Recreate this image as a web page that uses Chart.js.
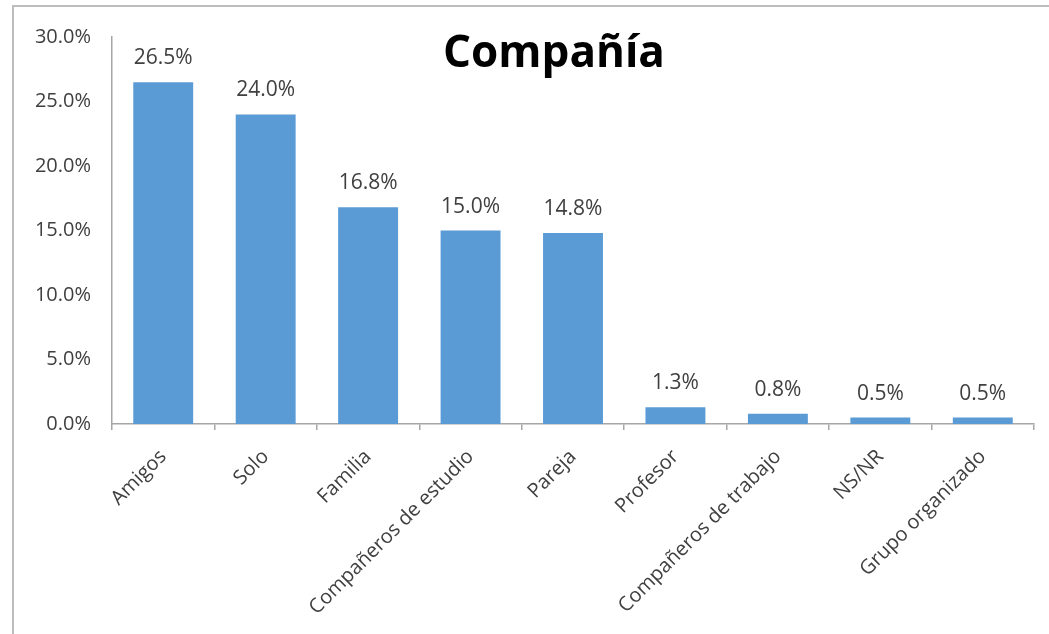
<!DOCTYPE html>
<html>
<head>
<meta charset="utf-8">
<script src="https://cdn.jsdelivr.net/npm/chart.js@4"></script>
<style>
html,body{margin:0;padding:0;background:#fff;}
#wrap{position:relative;width:1049px;height:634px;}
</style>
</head>
<body>
<div id="wrap"><canvas id="c"></canvas></div>
<script>
const categories = ["Amigos","Solo","Familia","Compañeros de estudio","Pareja","Profesor","Compañeros de trabajo","NS/NR","Grupo organizado"];
const values = [26.5, 24.0, 16.8, 15.0, 14.8, 1.3, 0.8, 0.5, 0.5];
const titleText = "Compañía";
const yMin = 0, yMax = 30, yStep = 5;

const FONT = "'Open Sans', 'DejaVu Sans', sans-serif";

const decor = {
  id: 'decor',
  beforeDraw(chart) {
    const ctx = chart.ctx;
    ctx.save();
    ctx.strokeStyle = '#bdbdbd';
    ctx.lineWidth = 2;
    ctx.beginPath();
    ctx.moveTo(13, chart.height);
    ctx.lineTo(13, 6);
    ctx.lineTo(chart.width, 6);
    ctx.stroke();
    ctx.restore();
  },
  afterDatasetsDraw(chart) {
    const ctx = chart.ctx;
    const meta = chart.getDatasetMeta(0);
    ctx.save();
    ctx.font = "21px " + FONT;
    ctx.fillStyle = '#404040';
    ctx.textAlign = 'center';
    ctx.textBaseline = 'alphabetic';
    meta.data.forEach((bar, i) => {
      ctx.fillText(values[i].toFixed(1) + '%', bar.x, bar.y - 18);
    });
    // title
    ctx.font = "bold 44px " + FONT;
    ctx.fillStyle = '#000000';
    ctx.fillText(titleText, 554, 67);
    ctx.restore();
  }
};

new Chart(document.getElementById('c'), {
  type: 'bar',
  data: {
    labels: categories,
    datasets: [{
      data: values,
      backgroundColor: '#5B9BD5',
      borderWidth: 0,
      barPercentage: 0.585,
      categoryPercentage: 1.0
    }]
  },
  options: {
    responsive: true,
    maintainAspectRatio: false,
    animation: false,
    devicePixelRatio: 1,
    layout: { padding: { top: 37, right: 15, left: 0, bottom: 0 } },
    plugins: { legend: { display: false }, tooltip: { enabled: false }, title: { display: false } },
    scales: {
      x: {
        grid: { display: true, drawOnChartArea: false, drawTicks: true, tickLength: 6, offset: true, color: '#a6a6a6', lineWidth: 1.5 },
        border: { display: true, color: '#a6a6a6', width: 1.5 },
        ticks: { autoSkip: false, minRotation: 45, maxRotation: 45, padding: 15, color: '#404040', font: { family: FONT, size: 20 } },
        afterFit(scale) { scale.height = 210; }
      },
      y: {
        min: yMin, max: yMax,
        grid: { display: false, drawTicks: false },
        border: { display: true, color: '#a6a6a6', width: 1.5 },
        ticks: { stepSize: yStep, padding: 21, color: '#404040', font: { family: FONT, size: 20 },
          callback: v => v.toFixed(1) + '%' },
        afterFit(scale) { scale.width = 112; }
      }
    }
  },
  plugins: [decor]
});
</script>
</body>
</html>
